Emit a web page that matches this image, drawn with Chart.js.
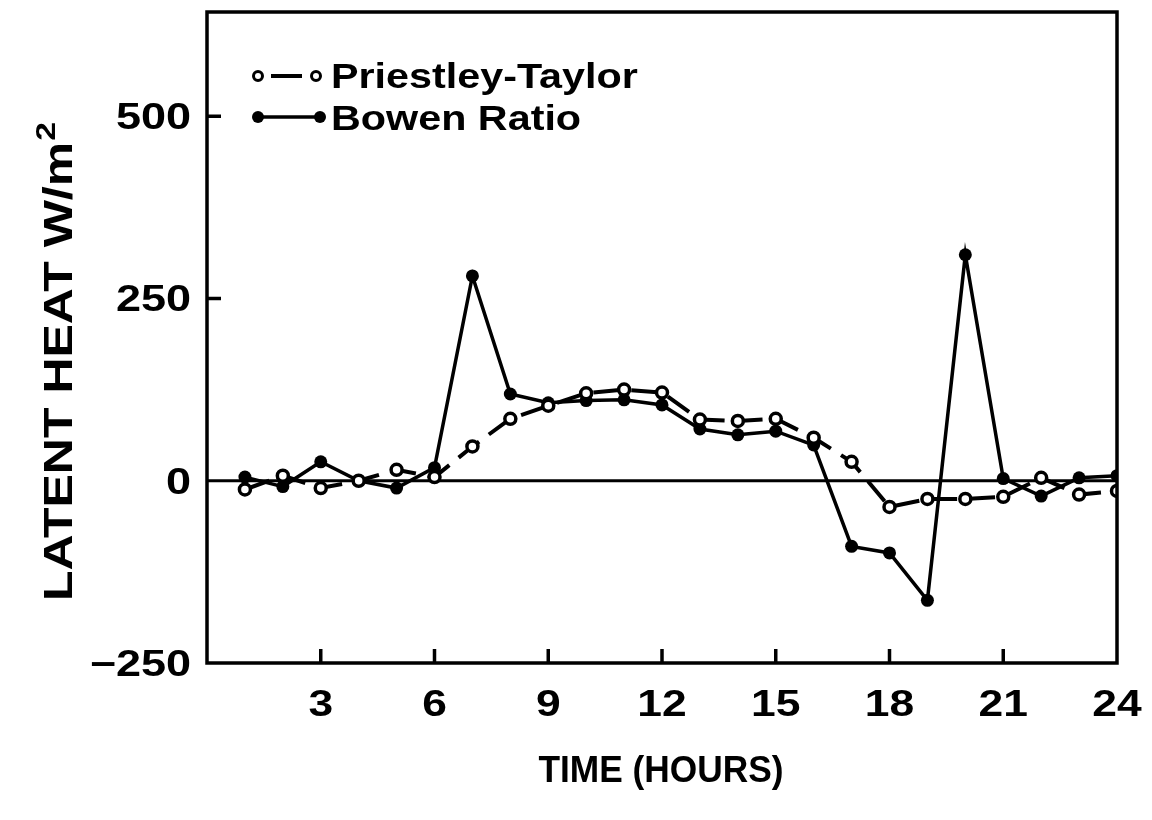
<!DOCTYPE html>
<html>
<head>
<meta charset="utf-8">
<script src="https://cdn.jsdelivr.net/npm/chart.js@4/dist/chart.umd.min.js"></script>
<style>
html,body{margin:0;padding:0;background:#fff;}
#wrap{width:1152px;height:820px;position:relative;}
</style>
</head>
<body>
<div id="wrap"><canvas id="c" width="1152" height="820"></canvas></div>
<script>
// ---- data ----
const hours = [1,2,3,4,5,6,7,8,9,10,11,12,13,14,15,16,17,18,19,20,21,22,23,24];
const priestleyTaylor = [-12,7,-10,0,15,5,47,85,103,120,125,121,84,82,85,59,26,-36,-25,-25,-22,4,-19,-14];
const bowenRatio = [5,-8,26,0,-10,18,281,119,107,110,111,104,71,63,68,49,-90,-99,-164,310,3,-21,4,7];
const xTickLabels = [3,6,9,12,15,18,21,24];
const xTickMarks = [3,6,9,12,15,18,21];
const yTickLabels = [-250,0,250,500];
const yTickMarks = [250,500];
const seriesNames = ['Priestley-Taylor','Bowen Ratio'];
const xTitle = 'TIME (HOURS)';
const yTitle = 'LATENT HEAT W/m';
const yTitleSup = '2';

const FONT = '"Liberation Sans", Arial, sans-serif';
function sText(ctx, text, x, y, size, sx, align, baseline, rot){
  ctx.save();
  ctx.translate(x,y);
  if(rot) ctx.rotate(rot);
  ctx.scale(sx,1);
  ctx.font = 'bold '+size+'px '+FONT;
  ctx.textAlign = align||'left';
  ctx.textBaseline = baseline||'alphabetic';
  ctx.fillStyle = '#000';
  ctx.fillText(text,0,0);
  ctx.restore();
}

const decor = {
  id:'decor',
  beforeDatasetsDraw(chart){
    const ctx = chart.ctx, a = chart.chartArea, ys = chart.scales.y;
    ctx.save();
    ctx.strokeStyle='#000';
    ctx.lineWidth = 3;
    const y0 = ys.getPixelForValue(0);
    ctx.beginPath(); ctx.moveTo(a.left,y0); ctx.lineTo(a.right,y0); ctx.stroke();
    ctx.restore();
  },
  afterDraw(chart){
    const ctx = chart.ctx, a = chart.chartArea, xs = chart.scales.x, ys = chart.scales.y;
    ctx.save();
    ctx.strokeStyle='#000';
    ctx.lineWidth = 3.5;
    ctx.strokeRect(a.left,a.top,a.right-a.left,a.bottom-a.top);
    ctx.lineWidth = 3.5;
    xTickMarks.forEach(v=>{
      const px = xs.getPixelForValue(v);
      ctx.beginPath(); ctx.moveTo(px,a.bottom); ctx.lineTo(px,a.bottom-14); ctx.stroke();
    });
    yTickMarks.forEach(v=>{
      const py = ys.getPixelForValue(v);
      ctx.beginPath(); ctx.moveTo(a.left,py); ctx.lineTo(a.left+14,py); ctx.stroke();
    });
    ctx.restore();
    // tick labels
    xTickLabels.forEach(v=>{
      sText(ctx,String(v),xs.getPixelForValue(v),716,37,1.2,'center');
    });
    yTickLabels.forEach(v=>{
      const lbl = v<0 ? '\u2212'+Math.abs(v) : String(v);
      sText(ctx,lbl,191,ys.getPixelForValue(v)+13,36,1.25,'right');
    });
    // axis titles
    sText(ctx,xTitle,661,782,36,0.98,'center');
    const tSize = 40, tSx = 1.25, supSize = 27;
    ctx.save();
    ctx.font = 'bold '+tSize+'px '+FONT;
    const wMain = ctx.measureText(yTitle).width*tSx;
    ctx.font = 'bold '+supSize+'px '+FONT;
    const wSup = ctx.measureText(yTitleSup).width*tSx;
    ctx.restore();
    const total = wMain + wSup;
    const yBottom = 362 + total/2;
    sText(ctx,yTitle,72,yBottom,tSize,tSx,'left','alphabetic',-Math.PI/2);
    sText(ctx,yTitleSup,72-17,yBottom-wMain-1,supSize,tSx,'left','alphabetic',-Math.PI/2);
    // legend
    ctx.save();
    ctx.strokeStyle='#000'; ctx.fillStyle='#000'; ctx.lineWidth=4;
    ctx.beginPath(); ctx.moveTo(271,76); ctx.lineTo(302,76); ctx.stroke();
    [258,316].forEach(cx=>{
      ctx.beginPath(); ctx.arc(cx,76,4.5,0,Math.PI*2); ctx.fillStyle='#fff'; ctx.fill(); ctx.lineWidth=3; ctx.stroke();
    });
    ctx.lineWidth=3.5;
    ctx.beginPath(); ctx.moveTo(258,117); ctx.lineTo(320,117); ctx.stroke();
    ctx.fillStyle='#000';
    [258,320].forEach(cx=>{ ctx.beginPath(); ctx.arc(cx,117,6,0,Math.PI*2); ctx.fill(); });
    ctx.restore();
    sText(ctx,seriesNames[0],331,88,35,1.18,'left');
    sText(ctx,seriesNames[1],331,130,35,1.18,'left');
  }
};

new Chart(document.getElementById('c'),{
  type:'line',
  data:{
    labels:hours,
    datasets:[
      {label:seriesNames[0], data:hours.map((h,i)=>({x:h,y:priestleyTaylor[i]})),
       borderColor:'#000', borderWidth:4, borderDash:[26,12],
       pointRadius:5.5, pointBorderWidth:3.5, pointBackgroundColor:'#fff', pointBorderColor:'#000',
       fill:false, tension:0},
      {label:seriesNames[1], data:hours.map((h,i)=>({x:h,y:bowenRatio[i]})),
       borderColor:'#000', borderWidth:3.5, pointRadius:6.5, pointBorderWidth:0,
       pointBackgroundColor:'#000', pointBorderColor:'#000', fill:false, tension:0}
    ]
  },
  options:{
    responsive:false, animation:false, devicePixelRatio:1,
    layout:{padding:{left:207,right:35,top:12,bottom:157}},
    plugins:{legend:{display:false}, tooltip:{enabled:false}},
    scales:{
      x:{type:'linear', min:0, max:24, display:false},
      y:{type:'linear', min:-250, max:643, display:false}
    }
  },
  plugins:[decor]
});
</script>
</body>
</html>
